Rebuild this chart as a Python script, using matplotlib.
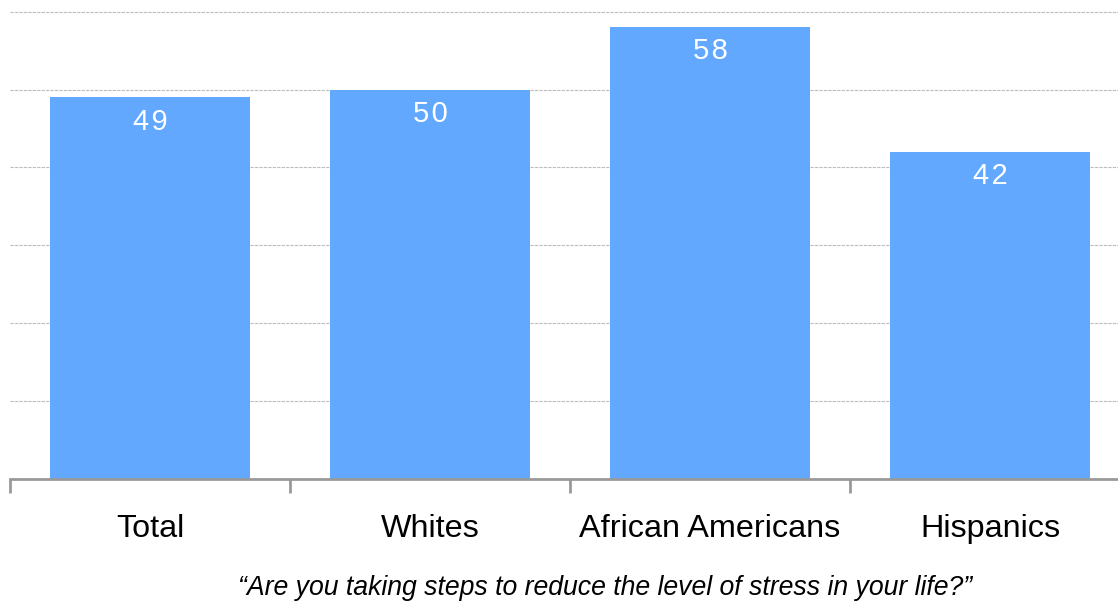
import matplotlib
matplotlib.use('Agg')
import matplotlib.pyplot as plt

categories = ['Total', 'Whites', 'African Americans', 'Hispanics']
values = [49, 50, 58, 42]
question = '\u201cAre you taking steps to reduce the level of stress in your life?\u201d'

plt.rcParams['font.family'] = ['Liberation Sans', 'DejaVu Sans']

fig = plt.figure(figsize=(11.18, 6.06), dpi=100)
ax = fig.add_axes([10 / 1118, 127 / 606, 1120 / 1118, 479 / 606])

x = range(len(categories))
bars = ax.bar(x, values, width=0.714, color='#62a8ff', zorder=2)

for b, v in zip(bars, values):
    ax.text(b.get_x() + b.get_width() / 2, v - 3.1, '\u200a'.join(str(v)),
            ha='center', va='center', color='white', fontsize=21, zorder=3)

ax.set_xlim(-0.5, len(categories) - 0.5)
ax.set_ylim(0, 61.5)
ax.set_yticks(range(10, 61, 10))
ax.yaxis.grid(True, color='#bdbdbd', linestyle=(0, (3, 1)), linewidth=0.8, zorder=0)
ax.tick_params(axis='y', left=False, labelleft=False)

# category boundaries get the tick marks, labels sit in between
ax.set_xticks([i - 0.5 for i in x], minor=False)
ax.set_xticklabels([])
ax.set_xticks(list(x), minor=True)
ax.set_xticklabels(categories, minor=True, fontsize=23.3)
ax.tick_params(axis='x', which='major', direction='out', length=10, width=2, color='#999999')
ax.tick_params(axis='x', which='minor', length=0, pad=25)

for s in ['top', 'right', 'left']:
    ax.spines[s].set_visible(False)
ax.spines['bottom'].set_color('#999999')
ax.spines['bottom'].set_linewidth(2)

fig.text(605 / 1118, 1 - 588 / 606, question, ha='center', va='center',
         fontsize=19.2, style='italic')

fig.savefig('out.png', dpi=100)
